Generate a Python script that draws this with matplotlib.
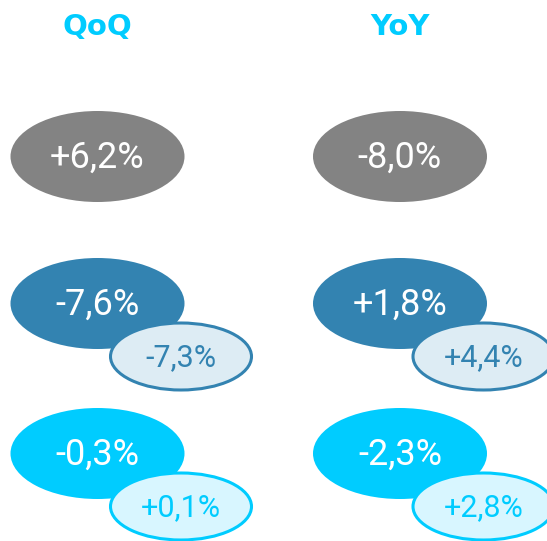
import matplotlib
matplotlib.use("Agg")
import matplotlib.pyplot as plt
from matplotlib.patches import Ellipse

# Data
columns = ["QoQ", "YoY"]
big_values = [["+6,2%", "-8,0%"],
              ["-7,6%", "+1,8%"],
              ["-0,3%", "-2,3%"]]
small_values = [[None, None],
                ["-7,3%", "+4,4%"],
                ["+0,1%", "+2,8%"]]

# Styles
row_colors = ["#838383", "#3383B1", "#00CCFF"]
small_fill = [None, "#DDECF4", "#D8F6FF"]
title_color = "#00CCFF"

W, H = 547, 541
fig = plt.figure(figsize=(W / 100, H / 100), dpi=100)
ax = fig.add_axes([0, 0, 1, 1])
ax.set_xlim(0, W)
ax.set_ylim(H, 0)
ax.axis("off")

col_x = [97.5, 400]
row_y = [156.5, 303.5, 453.5]
small_dx, small_dy = 83.5, 53
big_w, big_h = 174, 91
small_w, small_h = 141, 67

vfont = dict(family=["Roboto", "DejaVu Sans"])

for ci, name in enumerate(columns):
    ax.text(col_x[ci], 27, name, ha="center", va="center", fontsize=21,
            fontweight="bold", color=title_color, family="DejaVu Sans")
    for ri in range(3):
        cx, cy = col_x[ci], row_y[ri]
        ax.add_patch(Ellipse((cx, cy), big_w, big_h, facecolor=row_colors[ri],
                             edgecolor="none", zorder=2))
        ax.text(cx, cy + 1, big_values[ri][ci], ha="center", va="center",
                fontsize=26, color="white", zorder=3, **vfont)
        sv = small_values[ri][ci]
        if sv is not None:
            sx, sy = cx + small_dx, cy + small_dy
            ax.add_patch(Ellipse((sx, sy), small_w, small_h,
                                 facecolor=small_fill[ri],
                                 edgecolor=row_colors[ri], linewidth=2.2,
                                 zorder=4))
            ax.text(sx, sy + 1, sv, ha="center", va="center", fontsize=22,
                    color=row_colors[ri], zorder=5, **vfont)

fig.savefig("out.png", dpi=100)
